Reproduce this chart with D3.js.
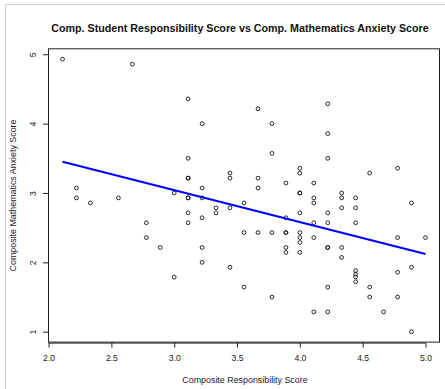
<!DOCTYPE html>
<html>
<head>
<meta charset="utf-8">
<script src="https://cdn.jsdelivr.net/npm/d3@7"></script>
<style>
  html, body { margin: 0; padding: 0; background: #fff; }
  svg { display: block; font-family: "Liberation Sans", Arial, Helvetica, sans-serif; }
</style>
</head>
<body>
<svg id="chart" width="445" height="389"></svg>
<script>
// Composite scores per student
const responsibility = [
  2.111, 2.667, 2.222, 2.222, 2.333, 2.556, 2.778, 2.778, 2.889, 3.000,
  3.000, 3.111, 3.111, 3.111, 3.111, 3.111, 3.111, 3.111, 3.111, 3.222,
  3.222, 3.222, 3.222, 3.222, 3.222, 3.333, 3.333, 3.444, 3.444, 3.444,
  3.444, 3.556, 3.556, 3.556, 3.667, 3.667, 3.667, 3.667, 3.778, 3.778,
  3.778, 3.778, 3.889, 3.889, 3.889, 3.889, 3.889, 3.889, 4.000, 4.000,
  4.000, 4.000, 4.000, 4.000, 4.000, 4.000, 4.000, 4.111, 4.111, 4.111,
  4.111, 4.111, 4.111, 4.222, 4.222, 4.222, 4.222, 4.222, 4.222, 4.222,
  4.222, 4.222, 4.333, 4.333, 4.333, 4.333, 4.333, 4.444, 4.444, 4.444,
  4.444, 4.444, 4.444, 4.444, 4.556, 4.556, 4.556, 4.667, 4.778, 4.778,
  4.778, 4.778, 4.889, 4.889, 4.889, 5.000
];
const anxiety = [
  4.929, 4.857, 3.071, 2.929, 2.857, 2.929, 2.571, 2.357, 2.214, 3.000,
  1.786, 4.357, 3.500, 3.214, 3.214, 2.929, 2.929, 2.714, 2.571, 4.000,
  3.071, 2.929, 2.643, 2.214, 2.000, 2.786, 2.714, 3.286, 3.214, 2.786,
  1.929, 2.857, 2.429, 1.643, 4.214, 3.214, 3.071, 2.429, 4.000, 3.571,
  2.429, 1.500, 3.143, 2.643, 2.429, 2.429, 2.214, 2.143, 3.357, 3.286,
  3.000, 3.000, 2.714, 2.429, 2.357, 2.286, 2.143, 3.143, 2.929, 2.857,
  2.571, 2.357, 1.286, 4.286, 3.857, 3.500, 2.714, 2.571, 2.214, 2.214,
  1.643, 1.286, 3.000, 2.929, 2.786, 2.214, 2.071, 2.929, 2.786, 2.571,
  1.880, 1.830, 1.790, 1.720, 3.286, 1.643, 1.500, 1.286, 3.357, 2.357,
  1.857, 1.500, 2.857, 1.929, 1.000, 2.357
];
const xTicks = [2.0, 2.5, 3.0, 3.5, 4.0, 4.5, 5.0];
const yTicks = [1, 2, 3, 4, 5];

const titleText = "Comp. Student Responsibility Score vs Comp. Mathematics Anxiety Score";
const xLabel = "Composite Responsibility Score";
const yLabel = "Composite Mathematics Anxiety Score";

const points = responsibility.map((r, i) => ({ x: r, y: anxiety[i] }));

const svg = d3.select("#chart");

// panel frame
svg.append("path")
  .attr("d", "M5.5,389 V4.5 H445")
  .attr("fill", "none")
  .attr("stroke", "#cfcfcf")
  .attr("stroke-width", 1);

// plot region with 4% padding around the data range
const xMin = d3.min(responsibility), xMax = d3.max(responsibility);
const yMin = d3.min(anxiety), yMax = d3.max(anxiety);
const xPad = (xMax - xMin) * 0.04, yPad = (yMax - yMin) * 0.04;

const plotLeft = 48, plotRight = 440, plotTop = 48.3, plotBottom = 342.6;
const x = d3.scaleLinear().domain([xMin - xPad, xMax + xPad]).range([plotLeft, plotRight]);
const y = d3.scaleLinear().domain([yMin - yPad, yMax + yPad]).range([plotBottom, plotTop]);

// box
svg.append("rect")
  .attr("x", plotLeft + 0.5).attr("y", plotTop + 0.5)
  .attr("width", plotRight - plotLeft - 1).attr("height", plotBottom - plotTop - 1)
  .attr("fill", "none").attr("stroke", "#222").attr("stroke-width", 1);

// axes
const xAxis = svg.append("g")
  .attr("transform", `translate(0,${plotBottom})`)
  .call(d3.axisBottom(x).tickValues(xTicks).tickFormat(d3.format(".1f")).tickSize(5).tickPadding(7).tickSizeOuter(0));
xAxis.select(".domain").attr("d", `M${x(xTicks[0])},0.5H${x(xTicks[xTicks.length - 1])}`).attr("stroke", "#222");
xAxis.selectAll(".tick line").attr("stroke", "#222");
xAxis.selectAll("text").attr("font-size", "8.6px").attr("fill", "#222").attr("font-family", "Liberation Sans, Arial, sans-serif");

const yAxis = svg.append("g")
  .attr("transform", `translate(${plotLeft},0)`)
  .call(d3.axisLeft(y).tickValues(yTicks).tickFormat(d3.format("d")).tickSize(5).tickSizeOuter(0));
yAxis.select(".domain").attr("d", `M0.5,${y(yTicks[0])}V${y(yTicks[yTicks.length - 1])}`).attr("stroke", "#222");
yAxis.selectAll(".tick line").attr("stroke", "#222");
yAxis.selectAll("text")
  .attr("font-size", "8.6px").attr("fill", "#222")
  .attr("font-family", "Liberation Sans, Arial, sans-serif")
  .attr("x", null).attr("dy", null)
  .attr("text-anchor", "middle")
  .attr("transform", "translate(-12,0) rotate(-90)");

// points
svg.append("g")
  .selectAll("circle")
  .data(points)
  .join("circle")
  .attr("cx", d => x(d.x))
  .attr("cy", d => y(d.y))
  .attr("r", 1.9)
  .attr("fill", "none")
  .attr("stroke", "#111")
  .attr("stroke-width", 0.9);

// least-squares fit of anxiety on responsibility
const mx = d3.mean(responsibility), my = d3.mean(anxiety);
const sxy = d3.sum(points, d => (d.x - mx) * (d.y - my));
const sxx = d3.sum(points, d => (d.x - mx) ** 2);
const slope = sxy / sxx, intercept = my - slope * mx;
const fit = [xMin, xMax].map(v => ({ x: v, y: intercept + slope * v }));

svg.append("path")
  .datum(fit)
  .attr("d", d3.line().x(d => x(d.x)).y(d => y(d.y)))
  .attr("stroke", "#0000ff")
  .attr("stroke-width", 2)
  .attr("fill", "none");

// titles
svg.append("text")
  .attr("x", 240).attr("y", 32)
  .attr("text-anchor", "middle")
  .attr("font-size", "10.7px").attr("font-weight", "bold").attr("fill", "#111")
  .text(titleText);

svg.append("text")
  .attr("x", 245).attr("y", 383)
  .attr("text-anchor", "middle")
  .attr("font-size", "8.9px").attr("fill", "#222")
  .text(xLabel);

svg.append("text")
  .attr("transform", `translate(16,${(plotTop + plotBottom) / 2}) rotate(-90)`)
  .attr("text-anchor", "middle")
  .attr("font-size", "8.9px").attr("fill", "#222")
  .text(yLabel);
</script>
</body>
</html>
